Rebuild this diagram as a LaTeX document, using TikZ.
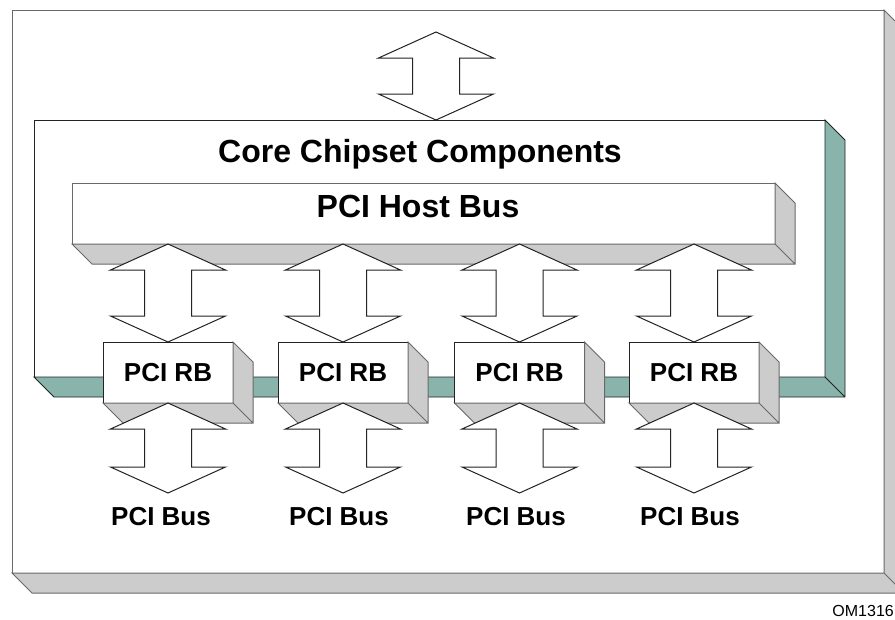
\documentclass[tikz,border=0pt]{standalone}
\usepackage{fontspec}
\setmainfont{Liberation Sans}
\usetikzlibrary{calc}

\definecolor{sidegray}{RGB}{204,204,204}
\definecolor{sideteal}{RGB}{136,180,172}
\definecolor{edgegray}{RGB}{105,105,105}
\definecolor{edgedark}{RGB}{35,35,35}

% side and bottom faces of a raised box
\newcommand{\depthof}[2]{%
  \draw[#2] (#1.north east) -- ++(20,20) -- ($(#1.south east)+(20,20)$)
    -- ($(#1.south west)+(20,20)$) -- (#1.south west) -- (#1.south east) -- cycle
    (#1.south east) -- ++(20,20);
}
% double-headed block arrow between two points straight above each other
\newcommand{\busarrow}[2]{%
  \draw[busarrow] (#1) -- ++(-57.5,26) -- ++(34,0) -- ($(#2)+(-23.5,-26)$)
    -- ++(-34,0) -- (#2) -- ++(57.5,-26) -- ++(-34,0) -- ($(#1)+(23.5,26)$)
    -- ++(34,0) -- cycle;
}

\begin{document}
\begin{tikzpicture}[x=1pt, y=-1pt,
  panel/.style={draw=edgegray, fill=white, line width=1pt, inner sep=0pt, outer sep=0pt},
  graydepth/.style={draw=edgegray, fill=sidegray, line width=1pt, line join=miter},
  tealdepth/.style={draw=edgedark, fill=sideteal, line width=.8pt, line join=miter},
  busarrow/.style={draw=edgedark, fill=white, line width=1pt, line join=miter},
  rbbox/.style={draw=edgedark, fill=white, line width=1pt, inner sep=0pt, outer sep=0pt,
    minimum width=130pt, minimum height=61pt, font=\fontsize{26}{30}\selectfont\bfseries},
  bigtext/.style={font=\fontsize{32}{38}\selectfont\bfseries, inner sep=0pt},
  bustext/.style={font=\fontsize{26}{30}\selectfont\bfseries, inner sep=0pt, anchor=base}]
  \useasboundingbox (0,0) rectangle (895,619);

  % outer board
  \node (board) [panel, minimum width=872pt, minimum height=563pt] at (448,291.5) {};
  \depthof{board}{graydepth}

  % link to the rest of the system
  \coordinate (sys) at (436,32);

  % core chipset
  \node (core) [panel, draw=edgedark, minimum width=791pt, minimum height=257pt] at (429.5,248.5) {};
  \depthof{core}{tealdepth}
  \busarrow{sys}{sys |- core.north}
  \node (coretitle) [bigtext, anchor=base] at (420,162) {Core Chipset Components};

  % host bus
  \node (host) [panel, minimum width=703pt, minimum height=61pt] at (423.5,213.5) {};
  \depthof{host}{graydepth}
  \node (hosttitle) [bigtext, anchor=base] at (418,217) {PCI Host Bus};

  % root bridges
  \node (rb1) [rbbox] at (168,372.5) {PCI RB};
  \node (rb2) [rbbox] at (343,372.5) {PCI RB};
  \node (rb3) [rbbox] at (519.5,372.5) {PCI RB};
  \node (rb4) [rbbox] at (694,372.5) {PCI RB};
  \depthof{rb1}{graydepth}
  \depthof{rb2}{graydepth}
  \depthof{rb3}{graydepth}
  \depthof{rb4}{graydepth}

  \busarrow{rb1 |- host.south}{rb1.north}
  \busarrow{rb2 |- host.south}{rb2.north}
  \busarrow{rb3 |- host.south}{rb3.north}
  \busarrow{rb4 |- host.south}{rb4.north}

  % secondary buses
  \node (bus1) [bustext] at (161,525) {PCI Bus};
  \node (bus2) [bustext] at (339,525) {PCI Bus};
  \node (bus3) [bustext] at (516,525) {PCI Bus};
  \node (bus4) [bustext] at (690,525) {PCI Bus};
  \coordinate (end1) at ($(rb1.south)+(0,90)$);
  \coordinate (end2) at ($(rb2.south)+(0,90)$);
  \coordinate (end3) at ($(rb3.south)+(0,90)$);
  \coordinate (end4) at ($(rb4.south)+(0,90)$);
  \busarrow{rb1.south}{end1}
  \busarrow{rb2.south}{end2}
  \busarrow{rb3.south}{end3}
  \busarrow{rb4.south}{end4}

  \node (figid) [font=\fontsize{16}{18}\selectfont, inner sep=0pt, anchor=base east] at (894,616) {OM1316};
\end{tikzpicture}
\end{document}
